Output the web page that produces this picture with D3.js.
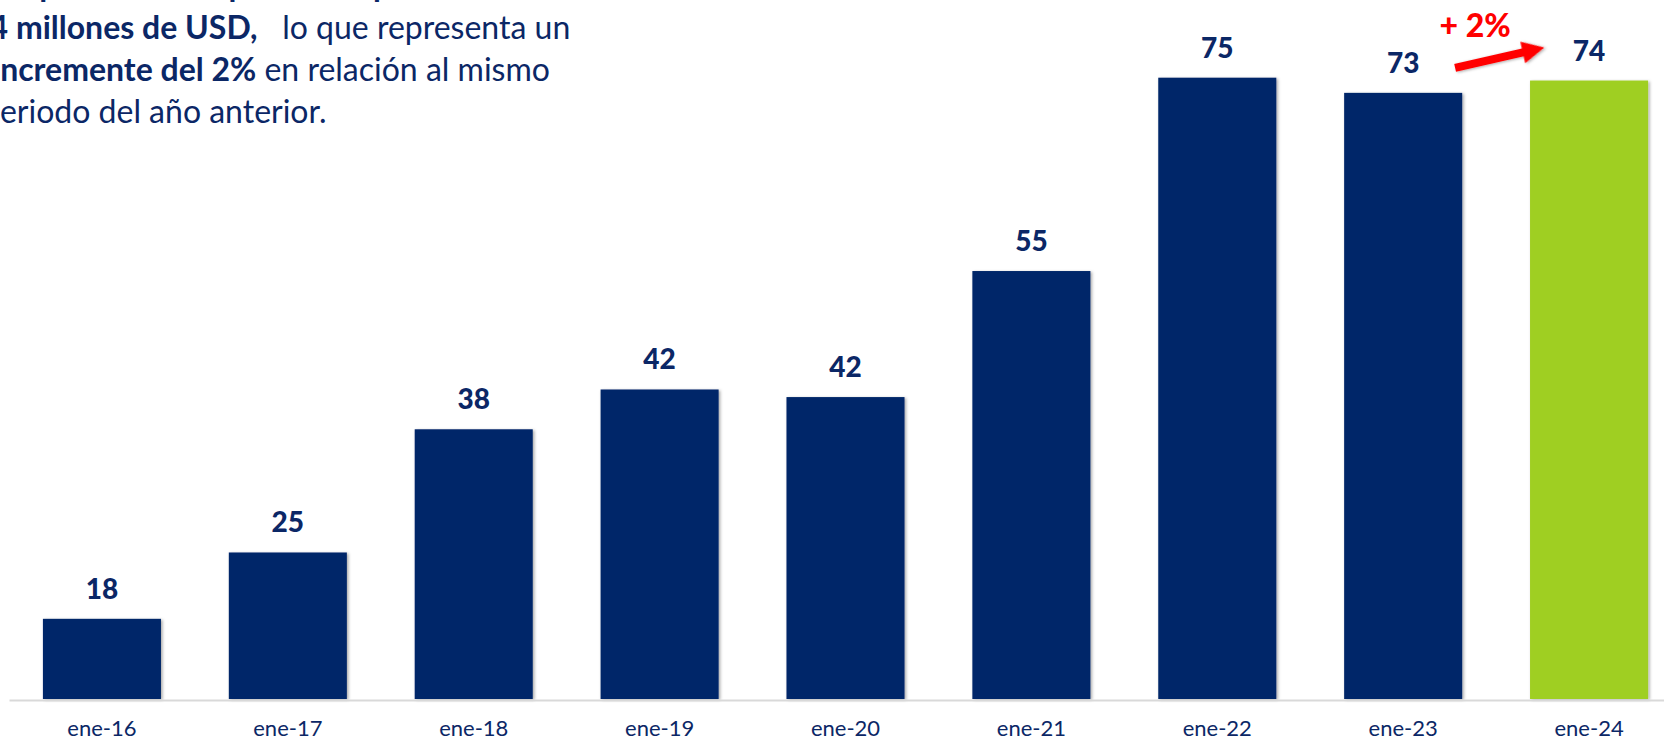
<!DOCTYPE html>
<html>
<head>
<meta charset="utf-8">
<script src="https://cdn.jsdelivr.net/npm/d3@7"></script>
<style>
html, body { margin: 0; padding: 0; background: #fff; overflow: hidden; }
svg { display: block; font-family: Lato, "Open Sans", sans-serif; }
</style>
</head>
<body>
<svg id="chart" width="1664" height="741"></svg>
<script>
// datos
var categories = ["ene-16", "ene-17", "ene-18", "ene-19", "ene-20", "ene-21", "ene-22", "ene-23", "ene-24"];
var values = [18.0, 25.0, 38.0, 42.2, 41.4, 54.7, 75.1, 73.5, 74.8];
var valueLabels = ["18", "25", "38", "42", "42", "55", "75", "73", "74"];
var highlight = "ene-24";
var growthLabel = "+ 2%";
var noteLines = [
    [{ t: "el liquidado de exportación por un monto de", b: true }],
    [{ t: "74 millones de USD,", b: true }, { t: "\u00A0\u00A0\u00A0lo que representa un", b: false }],
    [{ t: "incremente del 2%", b: true }, { t: "\u00A0en relación al mismo", b: false }],
    [{ t: "periodo del año anterior.", b: false }]
];
var noteOffsets = [-20, -29, -8, -18];

var navy = "#062669", green = "#9FCF22", ink = "#0B2766", red = "#FF0000";
var svg = d3.select('#chart');
var base = 699;

var f = svg.append('defs').append('filter').attr('id', 'shadow')
    .attr('x', '-10%').attr('y', '-10%').attr('width', '130%').attr('height', '130%');
f.append('feDropShadow').attr('dx', 1.5).attr('dy', 1).attr('stdDeviation', 1.5)
    .attr('flood-color', '#000').attr('flood-opacity', 0.35);

var x = d3.scaleBand().domain(categories).range([9, 1682]).paddingInner(0.365).paddingOuter(0.1825);
var y = d3.scaleLinear().domain([9.54, d3.max(values)]).range([base, 77.7]);
var bw = x.bandwidth();

// barras
svg.append('g').selectAll('rect').data(values).enter().append('rect')
    .attr('x', function (d, i) { return x(categories[i]); })
    .attr('y', function (d) { return y(d); })
    .attr('width', bw)
    .attr('height', function (d) { return base - y(d); })
    .attr('fill', function (d, i) { return categories[i] == highlight ? green : navy; })
    .attr('filter', 'url(#shadow)');

// eje
var axis = svg.append('g').attr('transform', 'translate(0,700)')
    .call(d3.axisBottom(x).tickSize(0).tickPadding(20));
axis.select('.domain').attr('stroke', '#D9D9D9').attr('stroke-width', 2);
axis.selectAll('text').attr('fill', ink).style('font-size', '22px')
    .style('font-family', 'Lato, "Open Sans", sans-serif');

// etiquetas de valor
svg.append('g').selectAll('text').data(values).enter().append('text')
    .attr('x', function (d, i) { return x(categories[i]) + bw / 2; })
    .attr('y', function (d) { return y(d) - 20; })
    .attr('text-anchor', 'middle')
    .attr('fill', ink).attr('font-weight', 900).attr('font-size', 28)
    .text(function (d, i) { return valueLabels[i]; });

// flecha de crecimiento
var n = categories.length;
var tail = [x(categories[n - 2]) + bw * 0.94, y(values[n - 2]) - 25];
var tip = [x(categories[n - 1]) + bw * 0.12, y(values[n - 1]) - 33];
var L = Math.hypot(tip[0] - tail[0], tip[1] - tail[1]);
var ang = Math.atan2(tip[1] - tail[1], tip[0] - tail[0]) * 180 / Math.PI;
svg.append('polygon')
    .attr('points', [[0, -4], [L - 22, -4], [L - 22, -11], [L, 0], [L - 22, 11], [L - 22, 4], [0, 4]].join(' '))
    .attr('transform', 'translate(' + tail + ') rotate(' + ang + ')')
    .attr('fill', red).attr('filter', 'url(#shadow)');
svg.append('text').attr('x', tail[0] + 20).attr('y', tip[1] - 11)
    .attr('text-anchor', 'middle').attr('fill', red)
    .attr('font-weight', 900).attr('font-size', 32).text(growthLabel);

// texto
var note = svg.append('g').attr('fill', ink).attr('font-size', 32);
for (var i = 0; i < noteLines.length; i++) {
    var t = note.append('text').attr('x', noteOffsets[i]).attr('y', -3 + i * 42);
    noteLines[i].forEach(function (s) {
        t.append('tspan').attr('font-weight', s.b ? 'bold' : 'normal').text(s.t);
    });
}
</script>
</body>
</html>
